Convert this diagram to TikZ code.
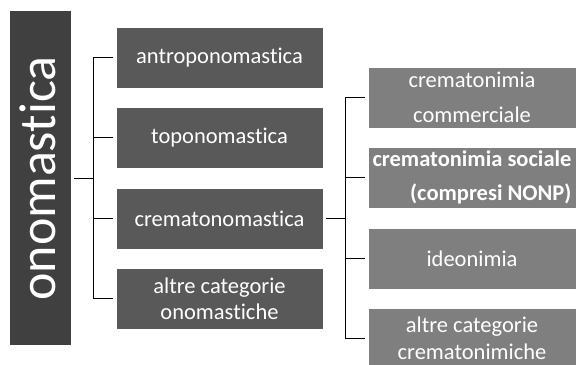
\documentclass[tikz,border=0pt]{standalone}
\usepackage{fontspec}
\setmainfont{Carlito}[Ligatures={NoCommon}]
\definecolor{rootc}{HTML}{404040}
\definecolor{lonec}{HTML}{595959}
\definecolor{ltwoc}{HTML}{7F7F7F}
\begin{document}
\begin{tikzpicture}[x=1pt,y=-1pt,
  box/.style={rectangle, draw=white, line width=0.6pt, text=white, inner sep=0pt, align=center,
    font=\fontsize{22.5}{26}\selectfont},
  lone/.style={box, fill=lonec, minimum width=207pt, minimum height=61pt},
  ltwo/.style={box, fill=ltwoc, minimum width=208pt, minimum height=61pt},
  conn/.style={draw=black, line width=0.8pt}]
\useasboundingbox (0,0) rectangle (577,364);
\begin{scope}
\clip (0,0) rectangle (577,364);
% root
\node[rectangle, fill=rootc, minimum width=61pt, minimum height=334pt, inner sep=0pt] (root) at (40.5,178) {};
\node[rotate=90, anchor=base, text=white, inner sep=0pt, font=\fontsize{52}{60}\selectfont] (roottxt) at (55,178.5) {onomastica};
% level 1
\node[lone] (a1) at (219.5,57.5) {antroponomastica};
\node[lone] (a2) at (219.5,137.5) {toponomastica};
\node[lone] (a3) at (219.5,218.5) {crematonomastica};
\node[lone] (a4) at (219.5,298.5) {altre categorie\\onomastiche};
% level 2
\node[ltwo, font=\fontsize{22.5}{35}\selectfont] (b1) at (472,97.5) {crematonimia\\commerciale};
\node[ltwo, align=right, font=\fontsize{22.5}{34}\selectfont\bfseries] (b2) at (472,177.5) {crematonimia sociale\\(compresi NONP)};
\node[ltwo] (b3) at (472,258.5) {ideonimia};
\node[ltwo, font=\fontsize{22.5}{27}\selectfont] (b4) at (472,338.5) {altre categorie\\crematonimiche};
% connectors level 1
\coordinate (t1) at (93,0);
\draw[conn] ([xshift=3pt]root.east) -- (root.east -| t1);
\draw[conn] ([xshift=-3pt]a1.west) -- (a1.west -| t1) -- (a4.west -| t1) -- ([xshift=-3pt]a4.west);
\draw[conn] ([xshift=-3pt]a2.west) -- (a2.west -| t1);
\draw[conn] ([xshift=-3pt]a3.west) -- (a3.west -| t1);
% connectors level 2
\coordinate (t2) at (345,0);
\draw[conn] ([xshift=3pt]a3.east) -- (a3.east -| t2);
\draw[conn] ([xshift=-3pt]b1.west) -- (b1.west -| t2) -- (b4.west -| t2) -- ([xshift=-3pt]b4.west);
\draw[conn] ([xshift=-3pt]b2.west) -- (b2.west -| t2);
\draw[conn] ([xshift=-3pt]b3.west) -- (b3.west -| t2);
\end{scope}
\end{tikzpicture}
\end{document}
